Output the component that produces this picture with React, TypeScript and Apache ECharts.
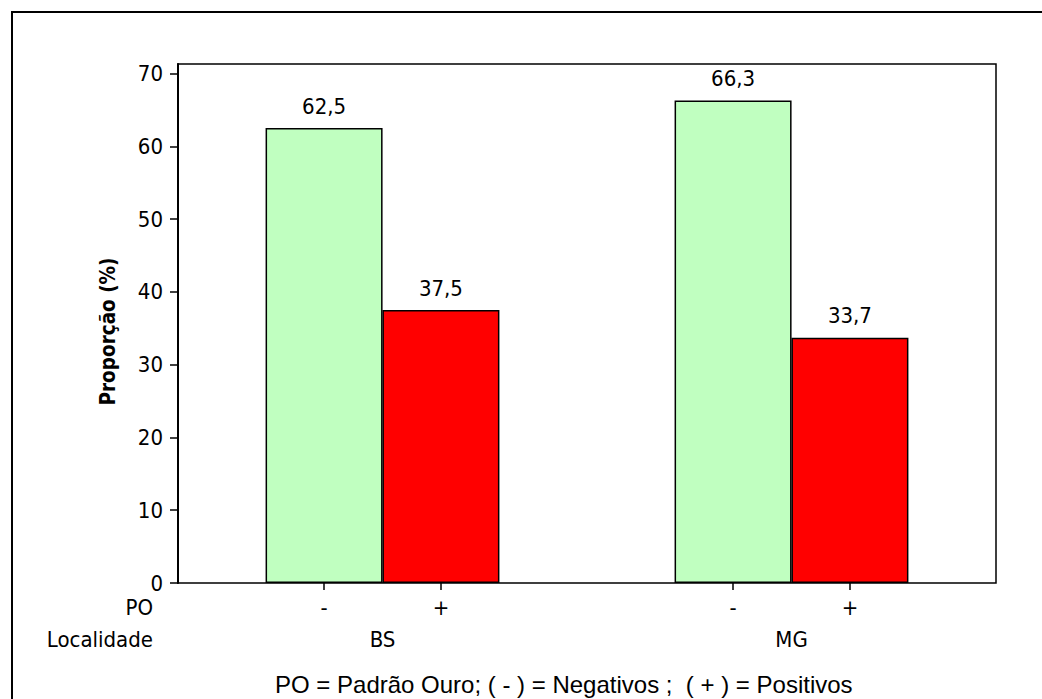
import React, { useEffect, useRef } from "react";
import * as echarts from "echarts";

const localidades = ["BS", "MG"];
const poLabels = ["-", "+"];
const negativos = [62.5, 66.3];
const positivos = [37.5, 33.7];
const yTicks = [0, 10, 20, 30, 40, 50, 60, 70];
const yAxisName = "Proporção (%)";
const footnote = "PO = Padrão Ouro; ( - ) = Negativos ;  ( + ) = Positivos";

const FONT = "'DejaVu Sans Condensed', 'DejaVu Sans', sans-serif";
const ARIAL = "'Liberation Sans', Arial, sans-serif";

export default function App() {
  const ref = useRef<HTMLDivElement>(null);
  useEffect(() => {
    document.body.style.margin = "0";
    if (!ref.current) return;
    const chart = echarts.init(ref.current, undefined, { renderer: "svg" });

    // layout: each cluster occupies 3.5 units, bars 1 unit wide
    const clusterCenter = (i: number) => 1.75 + i * 3.5;
    const barPos: number[] = [];
    const barLab: string[] = [];
    const data: any[] = [];
    localidades.forEach((_, i) => {
      const c = clusterCenter(i);
      barPos.push(c - 0.5, c + 0.5);
      barLab.push(poLabels[0], poLabels[1]);
      data.push({ value: [c - 0.5, negativos[i]], itemStyle: { color: "#C0FFC0" } });
      data.push({ value: [c + 0.5, positivos[i]], itemStyle: { color: "#FF0000" } });
    });
    const groupPos = localidades.map((_, i) => clusterCenter(i));

    const labelStyle = { color: "#000", fontFamily: FONT, fontSize: 22 };

    chart.setOption({
      animation: false,
      backgroundColor: "#fff",
      grid: {
        left: 178,
        right: 46,
        top: 64,
        bottom: 116,
        show: true,
        borderColor: "#000",
        borderWidth: 1.5,
        backgroundColor: "transparent",
      },
      xAxis: [
        {
          type: "value",
          min: 0,
          max: 7,
          splitLine: { show: false },
          axisLine: { show: false },
          axisTick: {
            show: true,
            customValues: barPos,
            length: 7,
            lineStyle: { color: "#000", width: 1.5 },
          },
          axisLabel: {
            ...labelStyle,
            customValues: barPos,
            margin: 12,
            lineHeight: 24,
            formatter: (v: number) => {
              const idx = barPos.findIndex((p) => Math.abs(p - v) < 1e-6);
              return idx >= 0 ? barLab[idx] : "";
            },
          },
        },
        {
          type: "value",
          min: 0,
          max: 7,
          position: "bottom",
          offset: 32,
          splitLine: { show: false },
          axisLine: { show: false },
          axisTick: { show: false },
          axisLabel: {
            ...labelStyle,
            customValues: groupPos,
            margin: 12,
            lineHeight: 24,
            formatter: (v: number) => {
              const idx = groupPos.findIndex((p) => Math.abs(p - v) < 1e-6);
              return idx >= 0 ? localidades[idx] : "";
            },
          },
        },
      ],
      yAxis: {
        type: "value",
        min: 0,
        max: 71.3,
        interval: 10,
        splitLine: { show: false },
        name: yAxisName,
        nameLocation: "middle",
        nameRotate: 90,
        nameGap: 60,
        nameTextStyle: {
          fontFamily: FONT,
          fontSize: 20.5,
          fontWeight: "bold",
          color: "#000",
          padding: [0, 16, 0, 0],
        },
        axisLine: { show: true, lineStyle: { color: "#000", width: 2 } },
        axisTick: {
          show: true,
          customValues: yTicks,
          length: 8,
          lineStyle: { color: "#000", width: 1.5 },
        },
        axisLabel: {
          ...labelStyle,
          customValues: yTicks,
          margin: 15,
        },
      },
      series: [
        {
          type: "bar",
          xAxisIndex: 0,
          barWidth: 117,
          data,
          itemStyle: { borderColor: "#000", borderWidth: 1.5 },
          label: {
            show: true,
            position: "top",
            distance: 11,
            ...labelStyle,
            formatter: (p: any) => p.value[1].toFixed(1).replace(".", ","),
          },
        },
      ],
      graphic: [
        {
          type: "rect",
          shape: { x: 12, y: 12, width: 1040, height: 700 },
          style: { fill: "none", stroke: "#000", lineWidth: 2 },
          silent: true,
          z: -1,
        },
        {
          type: "text",
          x: 153,
          y: 607,
          style: { text: "PO", align: "right", verticalAlign: "middle", font: `22px ${FONT}`, fill: "#000" },
        },
        {
          type: "text",
          x: 153,
          y: 639,
          style: { text: "Localidade", align: "right", verticalAlign: "middle", font: `22px ${FONT}`, fill: "#000" },
        },
        {
          type: "text",
          x: 275,
          y: 684,
          style: { text: footnote, align: "left", verticalAlign: "middle", font: `24px ${ARIAL}`, fill: "#000" },
        },
      ],
    });
    return () => chart.dispose();
  }, []);
  return <div ref={ref} style={{ width: 1042, height: 699 }} />;
}
